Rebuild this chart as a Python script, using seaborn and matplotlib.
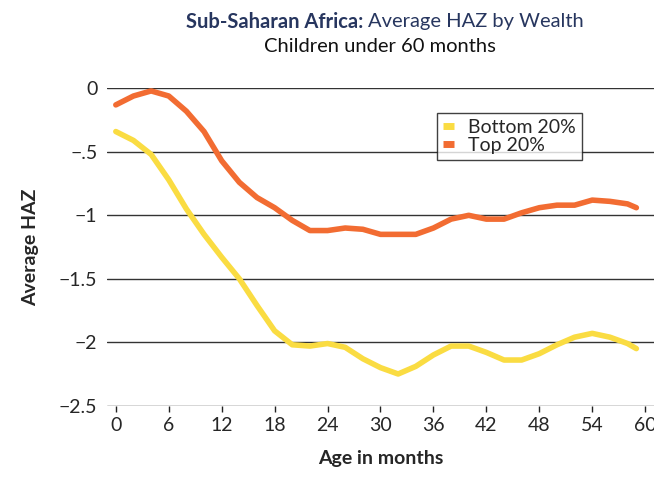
import matplotlib
matplotlib.use("Agg")
import matplotlib.pyplot as plt
import seaborn as sns
import pandas as pd

# Values
months = [0, 2, 4, 6, 8, 10, 12, 14, 16, 18, 20, 22, 24, 26, 28, 30,
          32, 34, 36, 38, 40, 42, 44, 46, 48, 50, 52, 54, 56, 58, 59]
bottom20 = [-0.34, -0.41, -0.52, -0.72, -0.95, -1.15, -1.33, -1.50, -1.71, -1.91,
            -2.02, -2.03, -2.01, -2.04, -2.13, -2.20, -2.25, -2.19, -2.10, -2.03,
            -2.03, -2.08, -2.14, -2.14, -2.09, -2.02, -1.96, -1.93, -1.96, -2.01, -2.05]
top20 = [-0.13, -0.06, -0.02, -0.06, -0.18, -0.34, -0.57, -0.74, -0.86, -0.94,
         -1.04, -1.12, -1.12, -1.10, -1.11, -1.15, -1.15, -1.15, -1.10, -1.03,
         -1.00, -1.03, -1.03, -0.98, -0.94, -0.92, -0.92, -0.88, -0.89, -0.91, -0.94]
series_names = ["Bottom 20%", "Top 20%"]
x_ticks = [0, 6, 12, 18, 24, 30, 36, 42, 48, 54, 60]
y_ticks = [0, -0.5, -1, -1.5, -2, -2.5]
y_tick_labels = ["0", "\u2212.5", "\u22121", "\u22121.5", "\u22122", "\u22122.5"]

df = pd.DataFrame({
    "month": months * 2,
    "haz": bottom20 + top20,
    "group": [series_names[0]] * len(months) + [series_names[1]] * len(months),
})

sns.set_style("white")
plt.rcParams["font.family"] = ["Lato", "DejaVu Sans"]

fig = plt.figure(figsize=(6.54, 4.83), dpi=100)
ax = fig.add_axes([0.1636, 0.160, 0.8364, 0.657])

palette = {"Bottom 20%": "#FADC42", "Top 20%": "#F26C32"}
sns.lineplot(data=df, x="month", y="haz", hue="group", palette=palette,
             linewidth=4, ax=ax, clip_on=False, zorder=3,
             solid_joinstyle="round", solid_capstyle="round")

ax.set_xlim(-1, 61)
ax.set_ylim(-2.5, 0)
ax.set_xticks(x_ticks)
ax.set_yticks(y_ticks)
ax.set_yticklabels(y_tick_labels)
ax.tick_params(axis="x", length=4, width=1, color="#222222", pad=4,
               labelsize=14, direction="out", bottom=True)
ax.tick_params(axis="y", length=0, pad=7, labelsize=14)

for s in ["top", "right", "left", "bottom"]:
    ax.spines[s].set_visible(False)
for yv in y_ticks:
    ax.axhline(yv, color="#333333", linewidth=1, zorder=1)

ax.set_xlabel("Age in months", fontsize=14, fontweight="bold", labelpad=12)
ax.set_ylabel("Average HAZ", fontsize=14, fontweight="bold", labelpad=14)

leg = ax.legend(loc="upper left", bbox_to_anchor=(0.603, 0.922), fontsize=14,
                frameon=True, fancybox=False, handlelength=0.6, handletextpad=0.7,
                borderpad=0.3, labelspacing=0.05, borderaxespad=0)
leg.get_frame().set_edgecolor("#111111")
leg.get_frame().set_linewidth(1)
for line in leg.get_lines():
    line.set_linewidth(5)
    line.set_solid_capstyle("butt")

fig.text(363 / 654, 1 - 22 / 483, "Sub-Saharan Africa:", ha="right", va="center",
         fontsize=14.5, fontweight="bold", color="#27365F")
fig.text(368 / 654, 1 - 22 / 483, "Average HAZ by Wealth", ha="left", va="center",
         fontsize=14.5, color="#27365F")
fig.text(380 / 654, 1 - 47 / 483, "Children under 60 months", ha="center", va="center",
         fontsize=14.5, color="#111111")

fig.savefig("out.png", dpi=100)
